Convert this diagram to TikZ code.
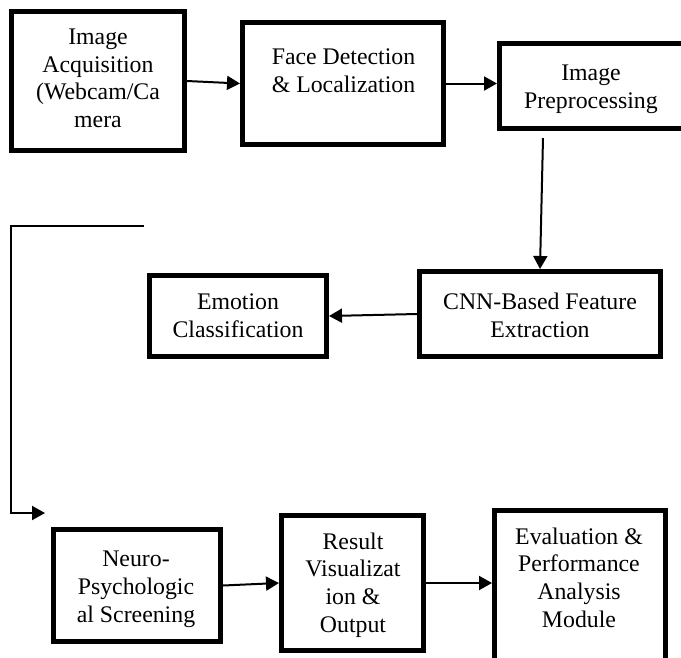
\documentclass[tikz,border=0pt]{standalone}
\usepackage{fontspec}
\setmainfont{Liberation Serif}
\usetikzlibrary{arrows.meta}
\begin{document}
\begin{tikzpicture}[x=1pt,y=-1pt,
  blk/.style={draw=black,line width=5pt,inner sep=0pt,minimum width=#1},
  lbl/.style={align=center,anchor=base,inner sep=0pt,font=\fontsize{23.8}{27.6}\selectfont},
  conn/.style={line width=2pt,-{Triangle[length=13pt,width=14pt]}},
  plain/.style={line width=2pt}]
\useasboundingbox (0,0) rectangle (681,657);
\clip (0,0) rectangle (681,657);
\fill[white] (0,0) rectangle (681,657);
% boxes
\node[blk=173pt,minimum height=139pt] (acq) at (98,81) {};
\node[blk=201pt,minimum height=122pt] (face) at (343,83.5) {};
\node[blk=200.5pt,minimum height=85pt] (pre) at (599.75,86) {};
\node[blk=241pt,minimum height=85pt] (cnn) at (540,314) {};
\node[blk=177pt,minimum height=81pt] (emo) at (238,316) {};
\node[blk=167pt,minimum height=112pt] (neuro) at (137,585.5) {};
\node[blk=142pt,minimum height=135pt] (res) at (352.5,583) {};
\node[blk=171pt,minimum height=169.5pt] (eval) at (580,595) {};
% labels (anchored at the baseline of the last line)
\node[lbl] (tacq) at (98,127.5) {Image\\Acquisition\\(Webcam/Ca\\mera};
\node[lbl] (tface) at (343.5,92) {Face Detection\\\& Localization};
\node[lbl] (tpre) at (591,108) {Image\\Preprocessing};
\node[lbl] (tcnn) at (540,337) {CNN-Based Feature\\Extraction};
\node[lbl] (temo) at (238,337) {Emotion\\Classification};
\node[lbl] (tneuro) at (136,622) {Neuro-\\Psychologic\\al Screening};
\node[lbl] (tres) at (353,632) {Result\\Visualizat\\ion \&\\Output};
\node[lbl] (teval) at (579,627) {Evaluation \&\\Performance\\Analysis\\Module};
% connectors
\coordinate (p3s) at (543,138);
\coordinate (ls) at (143,226);
\coordinate (lc1) at (11,226);
\coordinate (lc2) at (11,513);
\coordinate (le) at (45,513);
\draw[conn] (acq.east) -- (face.west);
\draw[conn] (face.east) -- (face.east -| pre.west);
\draw[conn] (p3s) -- (cnn.north);
\draw[conn] (cnn.west) -- (emo.east);
\draw[plain,line cap=rect] (ls) -- (lc1) -- (lc2);
\draw[conn] (lc2) -- (le);
\draw[conn] (neuro.east) -- (res.west);
\draw[conn] (res.east) -- (res.east -| eval.west);
\end{tikzpicture}
\end{document}
